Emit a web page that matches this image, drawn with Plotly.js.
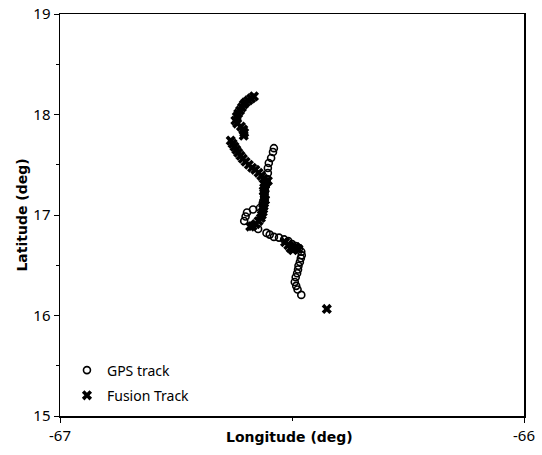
<!DOCTYPE html>
<html>
<head>
<meta charset="utf-8">
<script src="https://cdn.plot.ly/plotly-3.0.1.min.js"></script>
<style>html,body{margin:0;padding:0;background:#fff;}#chart{width:542px;height:455px;}</style>
</head>
<body>
<div id="chart"></div>
<script>
// GPS track (open circles)
const gpsLon = [-66.539, -66.541, -66.545, -66.550, -66.552, -66.552, -66.554, -66.556, -66.558, -66.560,
  -66.563, -66.569, -66.584, -66.597, -66.600, -66.603, -66.586, -66.573,
  -66.555, -66.548, -66.539, -66.528, -66.517, -66.508, -66.500, -66.492, -66.485, -66.480,
  -66.479, -66.481, -66.483, -66.486, -66.487, -66.489, -66.492, -66.494, -66.491, -66.488, -66.480];
const gpsLat = [17.665, 17.627, 17.567, 17.517, 17.468, 17.418, 17.358, 17.299, 17.239, 17.179,
  17.119, 17.070, 17.055, 17.025, 16.985, 16.940, 16.891, 16.861,
  16.822, 16.805, 16.782, 16.775, 16.757, 16.740, 16.710, 16.690, 16.670, 16.635,
  16.600, 16.570, 16.533, 16.495, 16.457, 16.420, 16.380, 16.334, 16.295, 16.258, 16.205];

// Fusion track (filled x marks)
const fusionLon = [-66.582, -66.588, -66.594, -66.600, -66.604, -66.608, -66.612, -66.616, -66.619, -66.622,
  -66.618, -66.610, -66.605, -66.603, -66.604,
  -66.632, -66.628, -66.624, -66.620, -66.616, -66.611, -66.606, -66.600, -66.593, -66.586,
  -66.579, -66.572, -66.566, -66.561, -66.557, -66.552, -66.558, -66.560, -66.561, -66.559,
  -66.560, -66.558, -66.560, -66.561, -66.562, -66.563, -66.565, -66.567, -66.572, -66.578,
  -66.585, -66.590,
  -66.515, -66.508, -66.503, -66.498, -66.492, -66.486,
  -66.425];
const fusionLat = [18.180, 18.160, 18.140, 18.120, 18.100, 18.070, 18.040, 18.010, 17.980, 17.940,
  17.910, 17.880, 17.850, 17.820, 17.790,
  17.740, 17.710, 17.680, 17.650, 17.620, 17.590, 17.560, 17.530, 17.500, 17.470,
  17.450, 17.420, 17.390, 17.360, 17.330, 17.340, 17.300, 17.270, 17.240, 17.210,
  17.180, 17.150, 17.120, 17.090, 17.060, 17.030, 17.000, 16.970, 16.940, 16.910,
  16.890, 16.885,
  16.730, 16.700, 16.670, 16.650, 16.680, 16.660,
  16.065];

const xTicks = [-67, -66];
const yTicks = [15, 16, 17, 18, 19];

const traces = [
  {
    x: gpsLon, y: gpsLat, type: 'scatter', mode: 'markers', name: 'GPS track', legendgroup: 'gps',
    marker: {symbol: 'circle-open', size: 7, color: '#000', line: {width: 1.6, color: '#000'}}
  },
  {
    x: fusionLon, y: fusionLat, type: 'scatter', mode: 'markers', name: 'Fusion Track', legendgroup: 'fusion',
    marker: {symbol: 'x', size: 9, color: '#000', line: {width: 0}}
  }
];

const axisCommon = {
  showgrid: false, zeroline: false, showline: true, linecolor: '#000', linewidth: 1.5,
  mirror: true, ticks: 'outside', ticklen: 5, tickwidth: 1, tickcolor: '#000',
  tickfont: {family: 'Noto Sans, DejaVu Sans, sans-serif', size: 15, color: '#000'},
  minor: {dtick: 0.5, ticks: 'outside', ticklen: 3, tickcolor: '#000', showgrid: false}
};

const titleFont = {family: 'DejaVu Sans, sans-serif', size: 14, color: '#000', weight: 'bold'};

const layout = {
  width: 542, height: 455,
  margin: {l: 60, r: 18, t: 14, b: 39},
  paper_bgcolor: '#fff', plot_bgcolor: '#fff',
  showlegend: true,
  legend: {x: 0.015, y: 0.153, xanchor: 'left', yanchor: 'top', bgcolor: 'rgba(0,0,0,0)',
    font: {family: 'Noto Sans, DejaVu Sans, sans-serif', size: 14, color: '#000'}, tracegroupgap: 4, itemwidth: 30},
  xaxis: Object.assign({}, axisCommon, {
    range: [-67, -66], tickvals: xTicks, ticktext: xTicks.map(String)
  }),
  yaxis: Object.assign({}, axisCommon, {
    range: [15, 19], tickvals: yTicks, ticktext: yTicks.map(String),
    title: {text: 'Latitude (deg)', standoff: 2, font: titleFont}
  }),
  annotations: [
    {text: 'Longitude (deg)', xref: 'paper', yref: 'paper', x: 0.495, y: -0.052,
     xanchor: 'center', yanchor: 'middle', showarrow: false, font: titleFont}
  ]
};

Plotly.newPlot('chart', traces, layout, {displayModeBar: false, staticPlot: true});
</script>
</body>
</html>
